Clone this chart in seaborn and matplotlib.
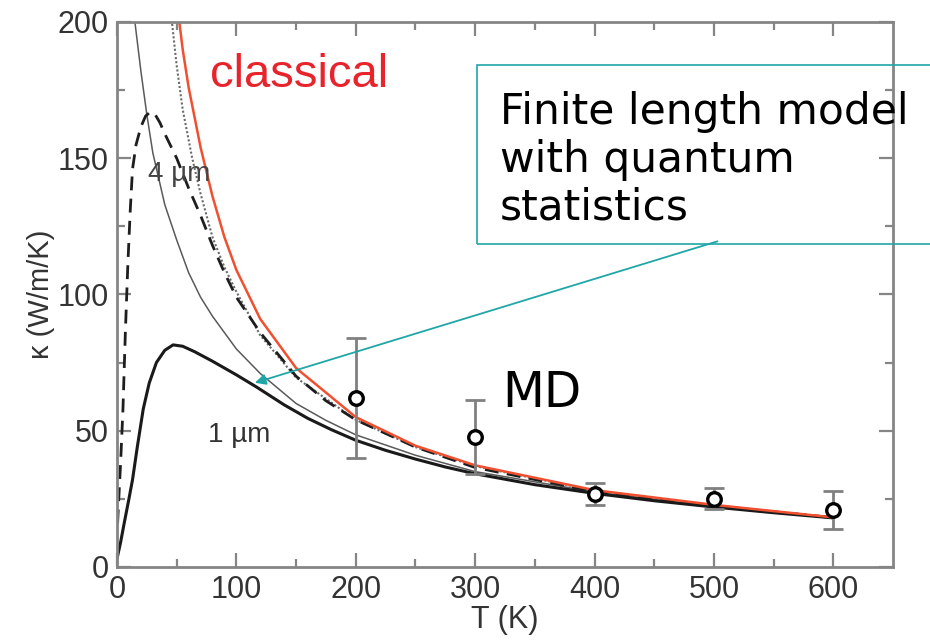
import numpy as np
import pandas as pd
import matplotlib
matplotlib.use("Agg")
import matplotlib.pyplot as plt
from matplotlib.patches import Rectangle
import seaborn as sns

# ---------------- data ----------------
T_classical = [50, 55, 60, 70, 80, 90, 100, 120, 150, 200, 250, 300, 400, 500, 600]
k_classical = [208, 190, 176, 154, 136, 121, 109, 91, 73, 55, 44.5, 37.3, 28.2, 22.8, 18.2]

T_dotted = [44, 46, 50, 55, 63, 70, 80, 90, 100, 120, 150, 200, 250, 300, 400, 500, 600]
k_dotted = [210, 200, 184, 168, 150, 137, 121, 110, 101, 85, 69.5, 54, 44, 37, 28, 22.6, 18.2]

T_4um = [0.5, 1.5, 3, 5, 7, 9, 11, 13, 16, 20, 24, 28, 32, 36, 40, 50, 60, 70, 80, 90, 100,
         120, 150, 175, 200, 250, 300, 400, 500, 600]
k_4um = [16, 25, 38, 58, 86, 110, 130, 146, 155, 161.5, 165.5, 167, 166, 163, 159, 150, 139,
         129, 118, 108, 99, 86, 70, 61, 54, 44, 36.5, 27.7, 22.4, 18.1]

T_thin = [13, 15, 20, 25, 30, 40, 50, 60, 70, 80, 100, 120, 150, 175, 200, 250, 300, 400,
          500, 600]
k_thin = [210, 200, 182, 166, 152, 133, 120, 108, 99, 92, 80, 71, 60, 53.8, 48.5, 41, 35,
          27.5, 22.2, 18]

T_1um = [0, 3, 6, 10, 13, 17, 22, 27, 33, 40, 47, 55, 65, 80, 100, 117, 140, 160, 180, 200,
         225, 250, 275, 300, 350, 400, 450, 500, 550, 600]
k_1um = [3, 9, 16, 25, 32, 44, 58, 67.5, 75, 79.5, 81.5, 81, 79, 75.5, 70.5, 66, 59.5, 54.5,
         50.3, 46.5, 42.8, 39.6, 36.7, 34.2, 30.2, 27, 24.3, 22, 19.9, 18]

T_md = [200, 300, 400, 500, 600]
k_md = [62, 47.8, 26.8, 25, 21]
err_md = [22, 13.5, 4, 3.8, 7]

x_ticks = [0, 100, 200, 300, 400, 500, 600]
y_ticks = [0, 50, 100, 150, 200]

# ---------------- style ----------------
sns.set_style("ticks")
plt.rcParams["font.family"] = ["Liberation Sans", "DejaVu Sans"]

fig = plt.figure(figsize=(9.3, 6.4), dpi=100)
ax = fig.add_axes([0.1258, 0.1141, 0.8344, 0.8516])

teal = "#1FA6A6"
spine_c = "#858585"


def draw(T, k, color, lw, dashes=None):
    df = pd.DataFrame({"T": T, "kappa": k})
    sns.lineplot(data=df, x="T", y="kappa", ax=ax, color=color, lw=lw,
                 errorbar=None, sort=True)
    line = ax.lines[-1]
    if dashes is not None:
        line.set_dashes(dashes)
    line.set_solid_joinstyle("round")
    return line


draw(T_thin, k_thin, "#5a5a5a", 1.1)
draw(T_dotted, k_dotted, "#6a6a6a", 1.5, dashes=(1.0, 1.0))
draw(T_4um, k_4um, "#1e1e1e", 2.0, dashes=(5.0, 3.0))
draw(T_1um, k_1um, "#1a1a1a", 2.2)
draw(T_classical, k_classical, "#F0502F", 1.8)

# MD points with error bars
ax.errorbar(T_md, k_md, yerr=err_md, fmt="none", ecolor="#808080",
            elinewidth=2.0, capsize=7, capthick=2.0, zorder=4)
md_df = pd.DataFrame({"T": T_md, "kappa": k_md})
sns.scatterplot(data=md_df, x="T", y="kappa", ax=ax, marker="o", s=95,
                facecolor="white", edgecolor="black", linewidth=2.4, zorder=5)

# ---------------- axes ----------------
ax.set_xlim(0, 650)
ax.set_ylim(0, 200)
ax.set_xticks(x_ticks)
ax.set_yticks(y_ticks)
ax.set_xticks(np.arange(50, 650, 100), minor=True)
ax.set_yticks(np.arange(25, 200, 50), minor=True)
ax.tick_params(which="both", direction="in", top=True, right=True,
               color=spine_c, width=1.6, labelsize=22, labelcolor="#333333")
ax.tick_params(which="major", length=10, pad=6)
ax.tick_params(which="minor", length=6)
for s in ax.spines.values():
    s.set_color(spine_c)
    s.set_linewidth(2.0)
    s.set_visible(True)

ax.set_xlabel("T (K)", fontsize=22, color="#333333", labelpad=0)
ax.set_ylabel("κ (W/m/K)", fontsize=21, color="#333333", labelpad=2)

# ---------------- annotations ----------------
ax.text(78, 176, "classical", color="#E8232B", fontsize=34, va="baseline", ha="left")
ax.text(26, 141.5, "4 µm", color="#444444", fontsize=20, va="baseline", ha="left")
ax.text(76, 46, "1 µm", color="#333333", fontsize=20, va="baseline", ha="left")
ax.text(323, 58.8, "MD", color="black", fontsize=35, va="baseline", ha="left",
        family=["DejaVu Sans"])

fig.text(500 / 930, 1 - 91 / 640, "Finite length model\nwith quantum\nstatistics",
         fontsize=30.5, family=["DejaVu Sans"], color="black", va="top", ha="left",
         linespacing=1.17)

box = Rectangle((477 / 930, 1 - 244 / 640), 0.6, (244 - 65) / 640,
                transform=fig.transFigure, fill=False, edgecolor=teal, lw=1.2,
                clip_on=False, zorder=10)
fig.patches.append(box)

ax.annotate("", xy=(115.5, 67.6), xytext=(503, 119.5),
            arrowprops=dict(arrowstyle="-|>", color=teal, lw=1.3,
                            mutation_scale=16, shrinkA=0, shrinkB=0),
            annotation_clip=False, zorder=11)

fig.savefig("out.png", dpi=100)
